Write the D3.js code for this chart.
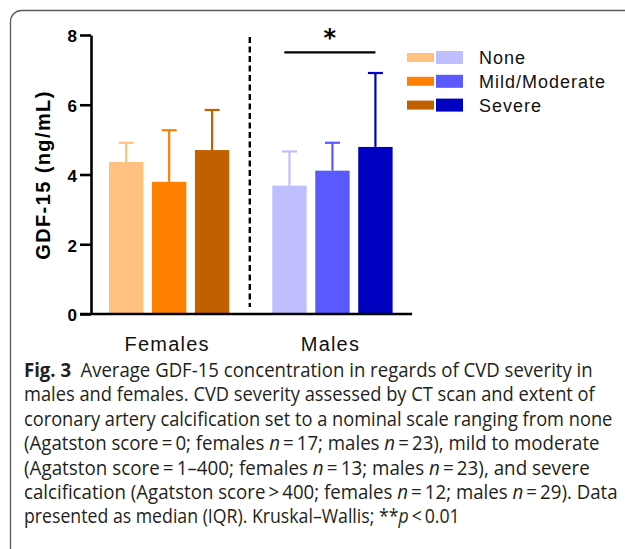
<!DOCTYPE html>
<html>
<head>
<meta charset="utf-8">
<script src="https://cdn.jsdelivr.net/npm/d3@7"></script>
<style>
  body { margin: 0; background: #fff; }
  svg { display: block; }
  .arial { font-family: 'Liberation Sans', Arial, Helvetica, sans-serif; }
  .caption { font-family: 'Open Sans', 'Noto Sans', sans-serif; }
</style>
</head>
<body>
<div id="chart"></div>
<script>
const width = 625;
const height = 549;

// data (median and upper IQR whisker)
const groups = ['Females', 'Males'];
const severities = ['None', 'Mild/Moderate', 'Severe'];
const female_median = [4.36, 3.79, 4.70];
const female_upper = [4.91, 5.27, 5.85];
const male_median = [3.68, 4.11, 4.79];
const male_upper = [4.66, 4.91, 6.91];
const y_ticks = [0, 2, 4, 6, 8];
const sig_label = '*';
const sig_level = 7.5;

const caption_lines = [
  [['b', 'Fig. 3'], ['r', '\u2002Average GDF-15 concentration in regards of CVD severity in']],
  [['r', 'males and females. CVD severity assessed by CT scan and extent of']],
  [['r', 'coronary artery calcification set to a nominal scale ranging from none']],
  [['r', '(Agatston score\u2009=\u20090; females '], ['i', 'n'], ['r', '\u2009=\u200917; males '], ['i', 'n'], ['r', '\u2009=\u200923), mild to moderate']],
  [['r', '(Agatston score\u2009=\u20091\u2013400; females '], ['i', 'n'], ['r', '\u2009=\u200913; males '], ['i', 'n'], ['r', '\u2009=\u200923), and severe']],
  [['r', 'calcification (Agatston score\u2009>\u2009400; females '], ['i', 'n'], ['r', '\u2009=\u200912; males '], ['i', 'n'], ['r', '\u2009=\u200929). Data']],
  [['r', 'presented as median (IQR). Kruskal\u2013Wallis; **'], ['i', 'p'], ['r', '\u2009<\u20090.01']],
];
const caption_widths = [569, 571, 589, 576, 566, 594, 436];

const female_colors = ['#ffc080', '#ff8000', '#c06000'];
const male_colors = ['#bfbfff', '#5959ff', '#0000c0'];

const rows = [];
groups.forEach((g, gi) => {
  severities.forEach((s, si) => {
    rows.push({
      group: g,
      severity: s,
      median: gi === 0 ? female_median[si] : male_median[si],
      upper: gi === 0 ? female_upper[si] : male_upper[si],
      color: gi === 0 ? female_colors[si] : male_colors[si],
    });
  });
});

const y_scale = d3.scaleLinear().domain([0, 8]).range([314, 35]);
const x_scale = d3.scaleBand().domain(groups).range([87.5, 414.1]);
const inner_scale = d3.scaleBand().domain(severities)
  .range([0, x_scale.bandwidth()])
  .paddingInner(0.2)
  .paddingOuter(0.5);
const bar_x = d => x_scale(d.group) + inner_scale(d.severity);
const bar_mid = d => bar_x(d) + inner_scale.bandwidth() / 2;

const svg = d3.select('#chart')
  .append('svg')
    .attr('width', width)
    .attr('height', height);

// rounded frame around the figure
svg.append('rect')
  .attr('x', 10.5).attr('y', 10.5)
  .attr('width', 700).attr('height', 600)
  .attr('rx', 11)
  .attr('fill', 'none')
  .attr('stroke', '#5a5a5a')
  .attr('stroke-width', 1.3);

// bars
svg.selectAll('rect.bar')
    .data(rows)
  .join('rect')
    .attr('class', 'bar')
    .attr('x', bar_x)
    .attr('y', d => y_scale(d.median))
    .attr('width', inner_scale.bandwidth())
    .attr('height', d => y_scale(0) - y_scale(d.median))
    .attr('fill', d => d.color);

// error bars (upper only)
const err = svg.selectAll('g.err')
    .data(rows)
  .join('g')
    .attr('class', 'err')
    .attr('stroke', d => d.color)
    .attr('stroke-width', 2.2);
err.append('line')
  .attr('x1', bar_mid).attr('x2', bar_mid)
  .attr('y1', d => y_scale(d.median))
  .attr('y2', d => y_scale(d.upper));
err.append('line')
  .attr('x1', d => bar_mid(d) - 7.5).attr('x2', d => bar_mid(d) + 7.5)
  .attr('y1', d => y_scale(d.upper))
  .attr('y2', d => y_scale(d.upper));

// y axis
const y_axis = svg.append('g')
  .attr('transform', 'translate(91,0)')
  .call(d3.axisLeft(y_scale).tickValues(y_ticks).tickSize(11).tickPadding(3).tickSizeOuter(0));
y_axis.attr('font-family', null).attr('font-size', null);
y_axis.select('.domain').attr('stroke', '#000').attr('stroke-width', 2.6);
y_axis.selectAll('.tick line').attr('stroke', '#000').attr('stroke-width', 2.6);
y_axis.selectAll('.tick text')
  .attr('class', 'arial')
  .attr('fill', '#000')
  .attr('font-weight', 'bold')
  .attr('font-size', 17)
  .attr('dy', '0.4em');

// x axis baseline
svg.append('line')
  .attr('x1', 80).attr('x2', x_scale.range()[1] - 2)
  .attr('y1', y_scale(0)).attr('y2', y_scale(0))
  .attr('stroke', '#000')
  .attr('stroke-width', 2.6);

// group labels
svg.selectAll('text.group')
    .data(groups)
  .join('text')
    .attr('class', 'group arial')
    .attr('x', d => x_scale(d) + x_scale.bandwidth() / 2 - 2)
    .attr('y', 351)
    .attr('text-anchor', 'middle')
    .attr('font-size', 20)
    .attr('letter-spacing', 1.2)
    .attr('fill', '#111')
    .text(d => d);

// y title
svg.append('text')
  .attr('class', 'arial')
  .attr('transform', 'translate(50,175) rotate(-90)')
  .attr('text-anchor', 'middle')
  .attr('font-weight', 'bold')
  .attr('font-size', 20)
  .attr('letter-spacing', 1.4)
  .attr('fill', '#000')
  .text('GDF-15 (ng/mL)');

// dashed separator between the groups
const sep_x = (x_scale('Females') + x_scale.bandwidth() + x_scale('Males')) / 2 - 1;
svg.append('line')
  .attr('x1', sep_x).attr('x2', sep_x)
  .attr('y1', y_scale(8) + 2).attr('y2', y_scale(0) - 7)
  .attr('stroke', '#000')
  .attr('stroke-width', 2.4)
  .attr('stroke-dasharray', '6,3.5');

// significance bracket (males: none vs severe)
const males = rows.filter(d => d.group === 'Males');
const sig_x1 = bar_x(males[0]) + 12;
const sig_x2 = bar_mid(males[2]);
svg.append('line')
  .attr('x1', sig_x1).attr('x2', sig_x2)
  .attr('y1', y_scale(sig_level)).attr('y2', y_scale(sig_level))
  .attr('stroke', '#000')
  .attr('stroke-width', 2.2);
svg.append('text')
  .attr('x', (sig_x1 + sig_x2) / 2)
  .attr('y', y_scale(sig_level) - 6)
  .attr('text-anchor', 'middle')
  .attr('font-family', "'DejaVu Sans', sans-serif")
  .attr('font-weight', 'bold')
  .attr('font-size', 24)
  .attr('fill', '#000')
  .text(sig_label);

// legend
const legend = svg.selectAll('g.legend')
    .data(severities)
  .join('g')
    .attr('class', 'legend')
    .attr('transform', (d, i) => 'translate(407,' + (57.5 + i * 23.8) + ')');
legend.append('rect')
  .attr('x', 0).attr('y', -4.5)
  .attr('width', 27).attr('height', 9)
  .attr('fill', (d, i) => female_colors[i]);
legend.append('rect')
  .attr('x', 29).attr('y', -6.5)
  .attr('width', 27).attr('height', 13)
  .attr('fill', (d, i) => male_colors[i]);
legend.append('text')
  .attr('class', 'arial')
  .attr('x', 72)
  .attr('y', 6.5)
  .attr('font-size', 18)
  .attr('letter-spacing', 1)
  .attr('fill', '#111')
  .text(d => d);

// caption: condensed by a horizontal scale to the width of each line
const caption = svg.selectAll('text.caption')
    .data(caption_lines)
  .join('text')
    .attr('class', 'caption')
    .attr('font-size', 20)
    .attr('fill', '#231f20');
caption.selectAll('tspan')
    .data(d => d)
  .join('tspan')
    .attr('font-weight', d => d[0] === 'b' ? 'bold' : null)
    .attr('font-style', d => d[0] === 'i' ? 'italic' : null)
    .text(d => d[1]);
caption.attr('transform', function(d, i) {
  const natural = this.getComputedTextLength();
  return 'translate(24,' + (377 + i * 24.4) + ') scale(' + (caption_widths[i] / natural) + ',1)';
});
</script>
</body>
</html>
